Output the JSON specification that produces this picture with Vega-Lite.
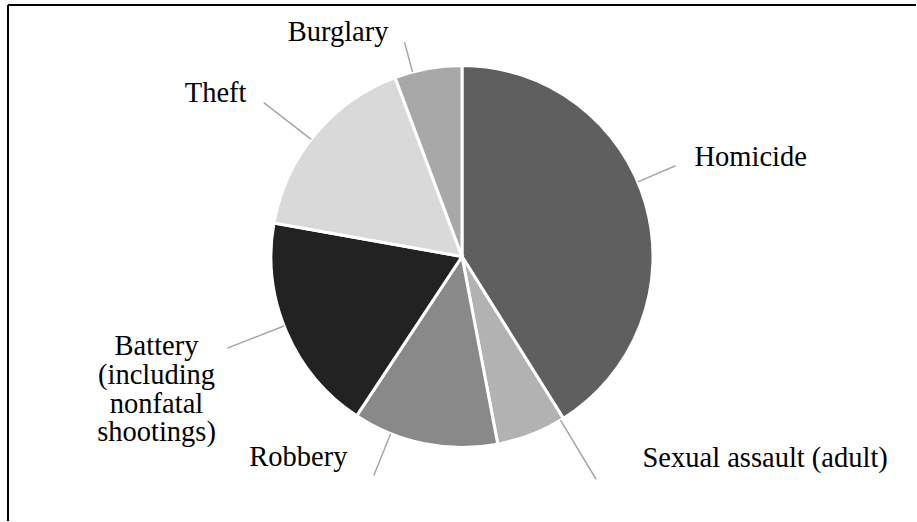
{
  "$schema": "https://vega.github.io/schema/vega-lite/v6.json",
  "width": 917,
  "height": 522,
  "autosize": {"type": "fit", "contains": "padding"},
  "padding": {"left": 7, "top": 4, "right": 0, "bottom": 0},
  "background": "white",
  "config": {
    "view": {"stroke": "transparent", "strokeWidth": 0},
    "text": {"font": "Liberation Serif", "fontSize": 28.5, "color": "black"}
  },
  "data": {
    "values": [
      {"category": "Homicide", "label": "Homicide", "value": 41.1, "rank": 1},
      {"category": "Sexual assault (adult)", "label": "Sexual assault (adult)", "value": 5.9, "rank": 2},
      {"category": "Robbery", "label": "Robbery", "value": 12.3, "rank": 3},
      {"category": "Battery (including nonfatal shootings)", "label": ["Battery", "(including", "nonfatal", "shootings)"], "value": 18.5, "rank": 4},
      {"category": "Theft", "label": "Theft", "value": 16.5, "rank": 5},
      {"category": "Burglary", "label": "Burglary", "value": 5.7, "rank": 6}
    ]
  },
  "layer": [
    {
      "data": {"values": [{"edge": "top"}]},
      "mark": {"type": "rule", "stroke": "black", "strokeWidth": 2},
      "encoding": {"y": {"value": 0}}
    },
    {
      "data": {"values": [{"edge": "left"}]},
      "mark": {"type": "rule", "stroke": "black", "strokeWidth": 2},
      "encoding": {"x": {"value": 0}}
    },
    {
      "mark": {"type": "arc", "outerRadius": 191, "stroke": "white", "strokeWidth": 3, "yOffset": -6.5},
      "encoding": {
        "theta": {"field": "value", "type": "quantitative", "stack": true},
        "order": {"field": "rank", "type": "quantitative"},
        "color": {
          "field": "category",
          "type": "nominal",
          "scale": {
            "domain": ["Homicide", "Sexual assault (adult)", "Robbery", "Battery (including nonfatal shootings)", "Theft", "Burglary"],
            "range": ["#5f5f5f", "#b2b2b2", "#898989", "#222222", "#d9d9d9", "#a8a8a8"]
          },
          "legend": null
        }
      }
    },
    {
      "mark": {"type": "arc", "innerRadius": 191, "outerRadius": 232, "padAngle": 3.1, "thetaOffset": -0.122, "theta2Offset": -0.122, "filled": false, "stroke": "#a6a6a6", "strokeWidth": 1.5, "yOffset": -6.5},
      "encoding": {
        "theta": {"field": "value", "type": "quantitative", "stack": true},
        "order": {"field": "rank", "type": "quantitative"},
        "strokeOpacity": {"condition": {"test": "datum.category === 'Homicide'", "value": 1}, "value": 0}
      }
    },
    {
      "mark": {"type": "arc", "innerRadius": 191, "outerRadius": 260, "padAngle": 3.1, "thetaOffset": -0.168, "theta2Offset": -0.168, "filled": false, "stroke": "#a6a6a6", "strokeWidth": 1.5, "yOffset": -6.5},
      "encoding": {
        "theta": {"field": "value", "type": "quantitative", "stack": true},
        "order": {"field": "rank", "type": "quantitative"},
        "strokeOpacity": {"condition": {"test": "datum.category === 'Sexual assault (adult)'", "value": 1}, "value": 0}
      }
    },
    {
      "mark": {"type": "arc", "innerRadius": 191, "outerRadius": 236, "padAngle": 3.1, "thetaOffset": 0.185, "theta2Offset": 0.185, "filled": false, "stroke": "#a6a6a6", "strokeWidth": 1.5, "yOffset": -6.5},
      "encoding": {
        "theta": {"field": "value", "type": "quantitative", "stack": true},
        "order": {"field": "rank", "type": "quantitative"},
        "strokeOpacity": {"condition": {"test": "datum.category === 'Robbery'", "value": 1}, "value": 0}
      }
    },
    {
      "mark": {"type": "arc", "innerRadius": 191, "outerRadius": 252, "padAngle": 3.1, "thetaOffset": 0.033, "theta2Offset": 0.033, "filled": false, "stroke": "#a6a6a6", "strokeWidth": 1.5, "yOffset": -6.5},
      "encoding": {
        "theta": {"field": "value", "type": "quantitative", "stack": true},
        "order": {"field": "rank", "type": "quantitative"},
        "strokeOpacity": {"condition": {"test": "datum.category === 'Battery (including nonfatal shootings)'", "value": 1}, "value": 0}
      }
    },
    {
      "mark": {"type": "arc", "innerRadius": 191, "outerRadius": 251, "padAngle": 3.1, "thetaOffset": -0.034, "theta2Offset": -0.034, "filled": false, "stroke": "#a6a6a6", "strokeWidth": 1.5, "yOffset": -6.5},
      "encoding": {
        "theta": {"field": "value", "type": "quantitative", "stack": true},
        "order": {"field": "rank", "type": "quantitative"},
        "strokeOpacity": {"condition": {"test": "datum.category === 'Theft'", "value": 1}, "value": 0}
      }
    },
    {
      "mark": {"type": "arc", "innerRadius": 191, "outerRadius": 222, "padAngle": 3.1, "thetaOffset": -0.083, "theta2Offset": -0.083, "filled": false, "stroke": "#a6a6a6", "strokeWidth": 1.5, "yOffset": -6.5},
      "encoding": {
        "theta": {"field": "value", "type": "quantitative", "stack": true},
        "order": {"field": "rank", "type": "quantitative"},
        "strokeOpacity": {"condition": {"test": "datum.category === 'Burglary'", "value": 1}, "value": 0}
      }
    },
    {
      "mark": {"type": "text", "radius": 150, "align": "left", "baseline": "middle", "dx": 88.3, "dy": -64.6},
      "encoding": {
        "theta": {"field": "value", "type": "quantitative", "stack": true},
        "order": {"field": "rank", "type": "quantitative"},
        "text": {"condition": {"test": "datum.category === 'Homicide'", "field": "label"}, "value": ""}
      }
    },
    {
      "mark": {"type": "text", "radius": 150, "align": "left", "baseline": "middle", "dx": 125.7, "dy": 55.4},
      "encoding": {
        "theta": {"field": "value", "type": "quantitative", "stack": true},
        "order": {"field": "rank", "type": "quantitative"},
        "text": {"condition": {"test": "datum.category === 'Sexual assault (adult)'", "field": "label"}, "value": ""}
      }
    },
    {
      "mark": {"type": "text", "radius": 150, "align": "right", "baseline": "middle", "dx": -85, "dy": 47.4},
      "encoding": {
        "theta": {"field": "value", "type": "quantitative", "stack": true},
        "order": {"field": "rank", "type": "quantitative"},
        "text": {"condition": {"test": "datum.category === 'Robbery'", "field": "label"}, "value": ""}
      }
    },
    {
      "mark": {"type": "text", "radius": 150, "align": "center", "baseline": "middle", "lineHeight": 28.7, "dx": -167.6, "dy": 24.1},
      "encoding": {
        "theta": {"field": "value", "type": "quantitative", "stack": true},
        "order": {"field": "rank", "type": "quantitative"},
        "text": {"condition": {"test": "datum.category === 'Battery (including nonfatal shootings)'", "field": "label"}, "value": ""}
      }
    },
    {
      "mark": {"type": "text", "radius": 150, "align": "right", "baseline": "middle", "dx": -100.2, "dy": -74},
      "encoding": {
        "theta": {"field": "value", "type": "quantitative", "stack": true},
        "order": {"field": "rank", "type": "quantitative"},
        "text": {"condition": {"test": "datum.category === 'Theft'", "field": "label"}, "value": ""}
      }
    },
    {
      "mark": {"type": "text", "radius": 200, "align": "right", "baseline": "middle", "dx": -37.9, "dy": -34.2},
      "encoding": {
        "theta": {"field": "value", "type": "quantitative", "stack": true},
        "order": {"field": "rank", "type": "quantitative"},
        "text": {"condition": {"test": "datum.category === 'Burglary'", "field": "label"}, "value": ""}
      }
    }
  ]
}
